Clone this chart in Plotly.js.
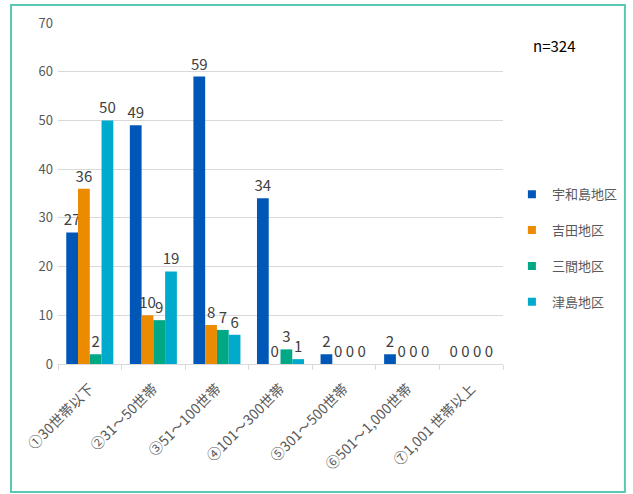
<!DOCTYPE html>
<html>
<head>
<meta charset="utf-8">
<script src="https://cdn.plot.ly/plotly-3.0.1.min.js"></script>
<style>html,body{margin:0;padding:0;background:#fff;}#chart{width:633px;height:494px;}</style>
</head>
<body>
<div id="chart"></div>
<script>
const categories = ["①30世帯以下", "②31～50世帯", "③51～100世帯", "④101～300世帯", "⑤301～500世帯", "⑥501～1,000世帯", "⑦1,001 世帯以上"];
const seriesNames = ["宇和島地区", "吉田地区", "三間地区", "津島地区"];
const uwajima = [27, 49, 59, 34, 2, 2, 0];
const yoshida = [36, 10, 8, 0, 0, 0, 0];
const mima = [2, 9, 7, 3, 0, 0, 0];
const tsushima = [50, 19, 6, 1, 0, 0, 0];
const colors = ["#0057b8", "#ed8b00", "#00a886", "#00aacc"];
const sampleNote = "n=324";

const FONT = '"Noto Sans CJK JP", "Noto Sans", sans-serif';
const allSeries = [uwajima, yoshida, mima, tsushima];
const traces = allSeries.map((vals, i) => ({
  type: 'bar',
  name: seriesNames[i],
  x: categories,
  y: vals,
  marker: {color: colors[i]},
  text: vals.map(String),
  textposition: 'outside',
  cliponaxis: false,
  textfont: {family: FONT, size: 15, color: '#404040'},
  showlegend: false
}));
// legend-only entries with small square symbols
seriesNames.forEach((n, i) => {
  traces.push({
    type: 'scatter', mode: 'markers', name: n,
    x: [null], y: [null],
    marker: {symbol: 'square', size: 8, color: colors[i]},
    legendgroup: 'g' + i, showlegend: true
  });
});

const layout = {
  width: 633, height: 494,
  margin: {l: 58, r: 130, t: 23, b: 130, autoexpand: false},
  paper_bgcolor: '#fff', plot_bgcolor: '#fff',
  font: {family: FONT, color: '#595959'},
  barmode: 'group',
  bargap: 0.26,
  bargroupgap: 0,
  uniformtext: {mode: 'show', minsize: 15},
  showlegend: true,
  legend: {
    x: 1.02, y: 0.542, xanchor: 'left', yanchor: 'top',
    bgcolor: 'rgba(0,0,0,0)',
    font: {family: FONT, size: 13, color: '#595959'},
    tracegroupgap: 16, traceorder: 'grouped',
    itemwidth: 30
  },
  xaxis: {
    type: 'category',
    tickangle: -45,
    tickfont: {family: FONT, size: 14, color: '#595959'},
    showline: true, linecolor: '#d9d9d9', linewidth: 1,
    ticks: 'outside', tickson: 'boundaries', ticklen: 5, tickcolor: '#d9d9d9',
    ticklabelstandoff: 10,
    showgrid: false
  },
  yaxis: {
    range: [0, 70], dtick: 10,
    tickfont: {family: FONT, size: 13, color: '#595959'},
    gridcolor: '#d9d9d9', gridwidth: 1,
    zeroline: false, showline: false, ticks: '', ticklen: 0,
    ticklabelstandoff: 4
  },
  annotations: [{
    text: sampleNote, xref: 'paper', yref: 'paper',
    x: 1.064, y: 0.934, xanchor: 'left', yanchor: 'middle',
    showarrow: false, font: {family: FONT, size: 15, color: '#000'}
  }],
  shapes: [{
    type: 'rect', xref: 'paper', yref: 'paper',
    x0: -0.1056, x1: 1.274, y0: -0.375, y1: 1.053,
    line: {color: '#5cc8b4', width: 2}
  }]
};

Plotly.newPlot('chart', traces, layout, {displayModeBar: false, staticPlot: true});
</script>
</body>
</html>
